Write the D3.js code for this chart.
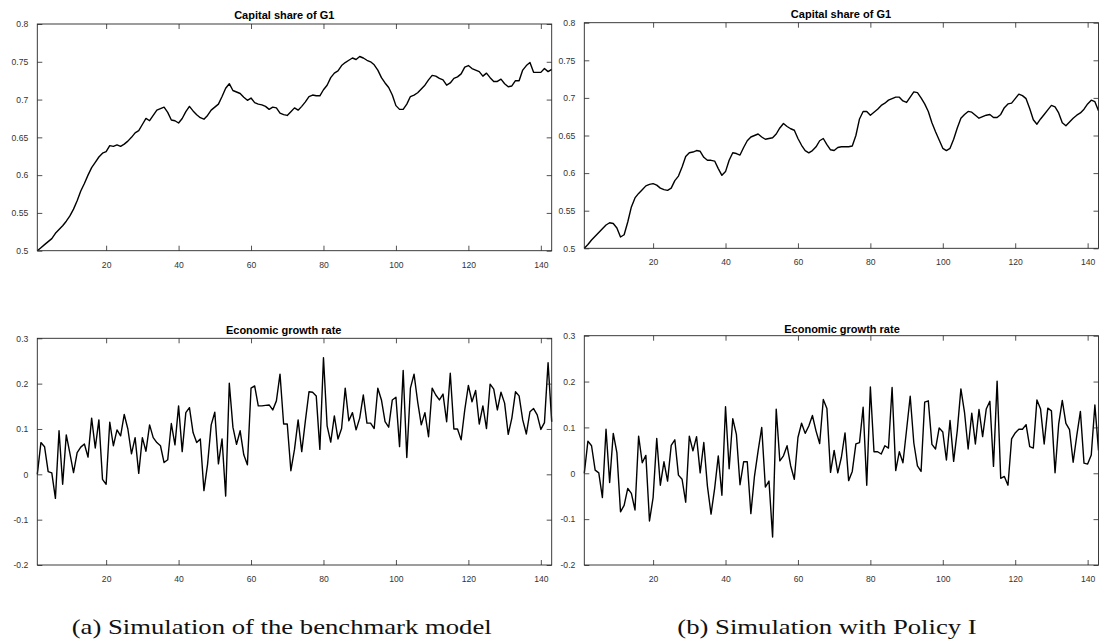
<!DOCTYPE html>
<html>
<head>
<meta charset="utf-8">
<script src="https://cdn.jsdelivr.net/npm/d3@7"></script>
<style>
  html, body { margin: 0; padding: 0; background: #fff; }
  svg { display: block; }
</style>
</head>
<body>
<svg id="chart" width="1099" height="640"></svg>
<script>
// Time periods of the simulation
const periods = d3.range(1, 144);

// Capital share of G1 — benchmark model
const capitalShareBenchmark = [
  0.500,0.504,0.508,0.512,0.516,0.523,0.528,0.533,0.539,0.546,
  0.555,0.566,0.579,0.589,0.600,0.610,0.617,0.624,0.629,0.631,
  0.639,0.638,0.640,0.638,0.641,0.645,0.650,0.656,0.659,0.667,
  0.675,0.672,0.679,0.686,0.688,0.690,0.683,0.673,0.672,0.669,
  0.675,0.684,0.691,0.685,0.680,0.676,0.674,0.679,0.686,0.690,
  0.694,0.704,0.715,0.721,0.712,0.710,0.708,0.703,0.699,0.702,
  0.696,0.694,0.693,0.691,0.687,0.690,0.689,0.682,0.680,0.679,
  0.684,0.689,0.686,0.691,0.697,0.704,0.706,0.705,0.705,0.713,
  0.719,0.729,0.735,0.738,0.745,0.749,0.752,0.755,0.753,0.757,
  0.755,0.752,0.750,0.746,0.739,0.729,0.722,0.716,0.706,0.692,
  0.687,0.687,0.694,0.704,0.706,0.709,0.714,0.719,0.726,0.732,
  0.731,0.728,0.726,0.719,0.722,0.728,0.730,0.734,0.743,0.745,
  0.741,0.739,0.737,0.731,0.735,0.729,0.724,0.724,0.727,0.721,
  0.717,0.718,0.725,0.725,0.739,0.745,0.749,0.736,0.736,0.736,
  0.741,0.737,0.740
];

// Capital share of G1 — Policy I
const capitalSharePolicy = [
  0.500,0.505,0.511,0.516,0.521,0.526,0.531,0.534,0.533,0.527,
  0.515,0.518,0.535,0.555,0.567,0.573,0.578,0.583,0.585,0.586,
  0.584,0.580,0.578,0.577,0.580,0.590,0.596,0.608,0.622,0.627,
  0.628,0.630,0.629,0.621,0.617,0.617,0.616,0.606,0.597,0.602,
  0.617,0.627,0.626,0.624,0.634,0.643,0.648,0.650,0.652,0.648,
  0.645,0.646,0.647,0.652,0.660,0.666,0.662,0.659,0.657,0.646,
  0.637,0.630,0.627,0.630,0.635,0.643,0.646,0.638,0.631,0.630,
  0.634,0.635,0.635,0.635,0.636,0.650,0.672,0.682,0.682,0.677,
  0.681,0.685,0.690,0.693,0.697,0.699,0.701,0.701,0.696,0.694,
  0.701,0.708,0.707,0.700,0.692,0.682,0.667,0.655,0.644,0.633,
  0.630,0.633,0.645,0.660,0.673,0.678,0.682,0.681,0.677,0.673,
  0.675,0.677,0.678,0.674,0.674,0.678,0.687,0.692,0.693,0.699,
  0.705,0.703,0.699,0.686,0.671,0.665,0.672,0.678,0.684,0.690,
  0.688,0.680,0.667,0.663,0.668,0.673,0.677,0.680,0.685,0.692,
  0.697,0.695,0.683
];

// Economic growth rate — benchmark model
const growthBenchmark = [
  0.000,0.070,0.061,0.006,0.003,-0.053,0.096,-0.022,0.087,0.046,
  0.004,0.048,0.060,0.067,0.038,0.124,0.058,0.120,-0.011,-0.022,
  0.115,0.063,0.098,0.085,0.132,0.100,0.045,0.081,0.002,0.081,
  0.051,0.109,0.081,0.070,0.063,0.026,0.032,0.112,0.065,0.151,
  0.050,0.136,0.147,0.092,0.070,0.078,-0.036,0.022,0.109,0.137,
  0.023,0.078,-0.048,0.201,0.104,0.066,0.096,0.043,0.021,0.190,
  0.195,0.151,0.151,0.152,0.153,0.142,0.162,0.221,0.111,0.111,
  0.008,0.055,0.120,0.050,0.118,0.182,0.181,0.173,0.055,0.257,
  0.107,0.071,0.129,0.078,0.101,0.190,0.118,0.136,0.098,0.124,
  0.175,0.113,0.113,0.101,0.190,0.164,0.116,0.104,0.164,0.170,
  0.061,0.229,0.037,0.190,0.221,0.160,0.109,0.136,0.083,0.190,
  0.175,0.164,0.177,0.116,0.223,0.100,0.100,0.076,0.142,0.196,
  0.160,0.185,0.111,0.151,0.101,0.199,0.188,0.142,0.181,0.157,
  0.088,0.124,0.182,0.173,0.120,0.089,0.138,0.145,0.131,0.099,
  0.114,0.246,0.116
];

// Economic growth rate — Policy I
const growthPolicy = [
  0.000,0.070,0.060,0.007,0.001,-0.053,0.096,-0.020,0.087,0.045,
  -0.084,-0.070,-0.033,-0.044,-0.080,0.081,0.023,0.039,-0.104,-0.053,
  0.076,-0.026,0.025,-0.017,0.061,0.073,-0.004,-0.013,-0.063,0.081,
  0.049,0.080,0.001,0.067,-0.028,-0.089,-0.033,0.038,-0.048,0.145,
  0.010,0.119,0.085,-0.025,0.025,0.025,-0.088,-0.006,0.049,0.100,
  -0.030,-0.017,-0.139,0.140,0.027,0.038,0.060,0.016,-0.013,0.078,
  0.109,0.087,0.103,0.126,0.092,0.065,0.161,0.141,0.002,0.050,
  0.001,0.035,0.088,-0.016,0.004,0.064,0.067,0.144,-0.026,0.188,
  0.047,0.047,0.042,0.060,0.055,0.187,0.006,0.047,0.023,0.095,
  0.168,0.066,0.016,0.004,0.155,0.158,0.063,0.053,0.099,0.090,
  0.029,0.115,0.026,0.093,0.184,0.133,0.053,0.131,0.064,0.139,
  0.080,0.140,0.157,0.015,0.201,-0.011,-0.007,-0.026,0.075,0.088,
  0.096,0.096,0.106,0.058,0.055,0.160,0.140,0.064,0.142,0.136,
  0.001,0.107,0.159,0.109,0.095,0.024,0.082,0.135,0.022,0.020,
  0.040,0.149,0.050
];

// Axis ticks
const xTickValues = [20, 40, 60, 80, 100, 120, 140];
const capitalTickValues = [0.5, 0.55, 0.6, 0.65, 0.7, 0.75, 0.8];
const capitalTickLabels = ["0.5", "0.55", "0.6", "0.65", "0.7", "0.75", "0.8"];
const growthTickValues = [-0.2, -0.1, 0, 0.1, 0.2, 0.3];
const growthTickLabels = ["-0.2", "-0.1", "0", "0.1", "0.2", "0.3"];

// Titles and captions
const capitalTitle = "Capital share of G1";
const growthTitle = "Economic growth rate";
const captionA = "(a) Simulation of the benchmark model";
const captionB = "(b) Simulation with Policy I";

const svg = d3.select("#chart");

const panels = [
  { box: [37.3, 551.7, 24.0, 250.7], titleX: 284.3, titleY: 19.0,
    title: capitalTitle, values: capitalShareBenchmark, yDomain: [0.5, 0.8],
    yTicks: capitalTickValues, yLabels: capitalTickLabels },
  { box: [584.3, 1098.5, 22.7, 248.3], titleX: 841.0, titleY: 17.5,
    title: capitalTitle, values: capitalSharePolicy, yDomain: [0.5, 0.8],
    yTicks: capitalTickValues, yLabels: capitalTickLabels },
  { box: [37.3, 551.7, 338.3, 565.0], titleX: 283.7, titleY: 333.5,
    title: growthTitle, values: growthBenchmark, yDomain: [-0.2, 0.3],
    yTicks: growthTickValues, yLabels: growthTickLabels },
  { box: [584.3, 1098.5, 335.7, 565.0], titleX: 842.0, titleY: 332.5,
    title: growthTitle, values: growthPolicy, yDomain: [-0.2, 0.3],
    yTicks: growthTickValues, yLabels: growthTickLabels }
];

const tickLen = 5;
const axisColor = "#262626";
const labelFont = "Liberation Sans, Arial, Helvetica, sans-serif";

panels.forEach(p => {
  const [x0, x1, y0, y1] = p.box;
  const x = d3.scaleLinear().domain([1, 143]).range([x0, x1]);
  const y = d3.scaleLinear().domain(p.yDomain).range([y1, y0]);
  const g = svg.append("g");

  // data line
  const line = d3.line()
    .x((d, i) => x(periods[i]))
    .y(d => y(d));
  g.append("path")
    .datum(p.values)
    .attr("d", line)
    .attr("fill", "none")
    .attr("stroke", "#000")
    .attr("stroke-width", 1.4)
    .attr("stroke-linejoin", "round");

  // bottom axis: inward ticks + labels
  const xBottom = d3.axisBottom(x).tickValues(xTickValues)
    .tickSizeInner(-tickLen).tickSizeOuter(0).tickPadding(tickLen + 6);
  const gb = g.append("g").attr("transform", `translate(0,${y1})`).call(xBottom);

  // top axis: mirrored ticks, no labels
  const xTop = d3.axisTop(x).tickValues(xTickValues)
    .tickSizeInner(-tickLen).tickSizeOuter(0).tickFormat("");
  const gt = g.append("g").attr("transform", `translate(0,${y0})`).call(xTop);

  // left axis: inward ticks + labels
  const yLeft = d3.axisLeft(y).tickValues(p.yTicks)
    .tickSizeInner(-tickLen).tickSizeOuter(0).tickPadding(tickLen + 4)
    .tickFormat((d, i) => p.yLabels[i]);
  const gl = g.append("g").attr("transform", `translate(${x0},0)`).call(yLeft);

  // right axis: mirrored ticks, no labels
  const yRight = d3.axisRight(y).tickValues(p.yTicks)
    .tickSizeInner(-tickLen).tickSizeOuter(0).tickFormat("");
  const gr = g.append("g").attr("transform", `translate(${x1},0)`).call(yRight);

  [gb, gt, gl, gr].forEach(a => {
    a.select(".domain").remove();
    a.selectAll(".tick line").attr("stroke", axisColor).attr("stroke-width", 0.8);
    a.selectAll(".tick text")
      .attr("fill", "#333")
      .style("font-family", labelFont)
      .style("font-size", "8.6px");
  });

  // box outline
  g.append("rect")
    .attr("x", x0).attr("y", y0)
    .attr("width", x1 - x0).attr("height", y1 - y0)
    .attr("fill", "none")
    .attr("stroke", axisColor)
    .attr("stroke-width", 0.9);

  // panel title
  g.append("text")
    .attr("x", p.titleX).attr("y", p.titleY)
    .attr("text-anchor", "middle")
    .style("font-family", labelFont)
    .style("font-size", "11px")
    .style("font-weight", "bold")
    .attr("fill", "#000")
    .text(p.title);
});

// subfigure captions
const capFont = "Liberation Serif, Times New Roman, serif";
const capA = svg.append("text")
  .attr("x", 281.7).attr("y", 634)
  .attr("text-anchor", "middle")
  .style("font-family", capFont)
  .style("font-size", "21px")
  .attr("fill", "#111")
  .text(captionA);
const capB = svg.append("text")
  .attr("x", 827).attr("y", 634)
  .attr("text-anchor", "middle")
  .style("font-family", capFont)
  .style("font-size", "21px")
  .attr("fill", "#111")
  .text(captionB);

// stretch captions to the wider book face proportions
const natA = capA.node().getComputedTextLength();
const natB = capB.node().getComputedTextLength();
const stretch = 420 / natA;
capA.attr("textLength", natA * stretch).attr("lengthAdjust", "spacingAndGlyphs");
capB.attr("textLength", natB * stretch).attr("lengthAdjust", "spacingAndGlyphs");
</script>
</body>
</html>
